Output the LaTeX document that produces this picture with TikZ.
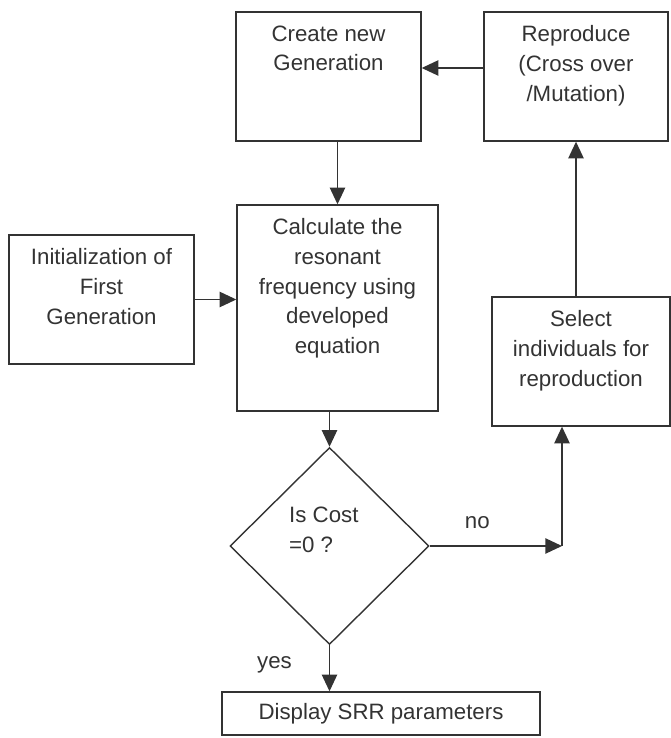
\documentclass[tikz,border=0pt]{standalone}
\usepackage{fontspec}
\setmainfont{Liberation Sans}
\usetikzlibrary{shapes.geometric,arrows.meta}
\definecolor{ink}{HTML}{333333}
\begin{document}
\begin{tikzpicture}[>={Triangle[length=0.5cm,width=0.46cm]},
	font=\fontsize{19}{25.4}\selectfont,text=ink,
	box/.style={draw=ink,line width=1.2pt,inner sep=0pt},
	txt/.style={anchor=north,align=center,inner sep=0pt,yshift=-0.42cm},
	arr/.style={->,draw=ink,line width=1.2pt}]
			\useasboundingbox (0,0) rectangle (20.13,22.14);
			%top row
			\node[box,minimum width=5.55cm,minimum height=3.87cm,label={[txt]north:Create new\\Generation}] (create) at (9.855,19.845) {};
			\node[box,minimum width=5.52cm,minimum height=3.87cm,label={[txt]north:Reproduce\\(Cross over\\/Mutation)}] (repro) at (17.28,19.845) {};
			%middle row
			\node[box,minimum width=5.55cm,minimum height=3.87cm,label={[txt]north:Initialization of\\First\\Generation}] (init) at (3.045,13.155) {};
			\node[box,minimum width=6.03cm,minimum height=6.18cm,label={[txt]north:Calculate the\\resonant\\frequency using\\developed\\equation}] (calc) at (10.125,12.9) {};
			\node[box,minimum width=5.34cm,minimum height=3.87cm,label={[txt]north:Select\\individuals for\\reproduction}] (sel) at (17.43,11.295) {};
			%decision and end
			\node[box,diamond,aspect=1,minimum width=5.97cm,minimum height=5.91cm,label={[align=left,inner sep=0pt,xshift=-0.17cm,yshift=0.48cm]center:{Is Cost\\=0 ?}}] (dec) at (9.885,5.76) {};
			\node[box,minimum width=9.54cm,minimum height=1.29cm] (disp) at (11.43,0.735) {Display SRR parameters};
			\coordinate (turn) at (16.86,5.76);
			%arrows
			\draw[arr] ([yshift=0.255cm]repro.west) -- ([yshift=0.255cm]repro.west -| create.east);
			\draw[arr] (create.south -| calc.north) -- (calc.north);
			\draw[arr] (init.east) -- (init.east -| calc.west);
			\draw[arr] (calc.south -| dec.north) -- (dec.north);
			\draw[arr] (dec.south) -- node[pos=0.43,xshift=-1.65cm]{yes} (dec.south |- disp.north);
			\draw[arr] (dec.east) -- node[pos=0.36,yshift=0.69cm]{no} (turn);
			\draw[arr] (turn) -- (turn |- sel.south);
			\draw[arr] (sel.north -| repro.south) -- (repro.south);
		\end{tikzpicture}
\end{document}
